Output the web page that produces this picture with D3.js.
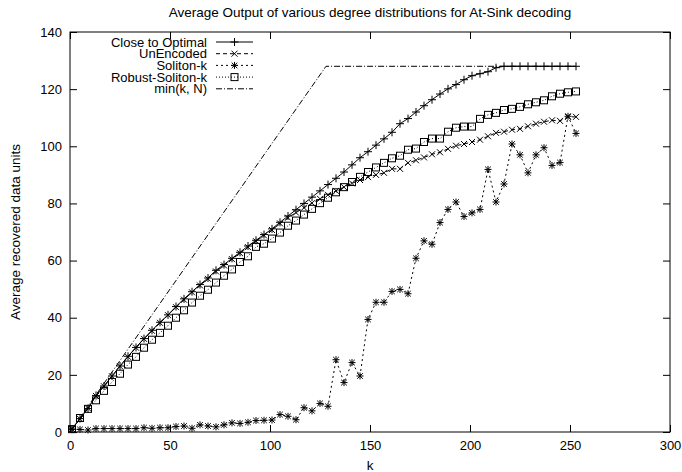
<!DOCTYPE html>
<html>
<head>
<meta charset="utf-8">
<script src="https://cdn.jsdelivr.net/npm/d3@7"></script>
<style>
  body { margin: 0; background: #fff; }
  svg { font-family: "Liberation Sans", Arial, Helvetica, sans-serif; }
  .axis path { stroke: none; }
  .axis line { stroke: #000; }
  .axis text { font-size: 13px; fill: #000; }
</style>
</head>
<body>
<div class="chart"></div>
<script>
// k values (every 4th)
let kVals = [1, 5, 9, 13, 17, 21, 25, 29, 33, 37, 41, 45, 49, 53, 57, 61,
  65, 69, 73, 77, 81, 85, 89, 93, 97, 101, 105, 109, 113, 117, 121, 125,
  129, 133, 137, 141, 145, 149, 153, 157, 161, 165, 169, 173, 177, 181, 185, 189,
  193, 197, 201, 205, 209, 213, 217, 221, 225, 229, 233, 237, 241, 245, 249, 253];

let closeOpt = [1, 4.7, 8.2, 12.8, 16.1, 19.6, 23.1, 26.5, 29.6, 32.7, 35.6, 38.4, 41.0, 43.9, 46.6, 49.1,
  51.6, 53.9, 56.6, 58.6, 60.8, 62.9, 65.1, 67.1, 69.1, 71.1, 73.4, 75.6, 77.8, 80.0, 82.2, 84.4,
  86.6, 88.8, 91.0, 93.5, 96.0, 98.1, 100.4, 102.6, 104.9, 107.9, 109.7, 112.0, 114.2, 116.3, 118.3, 120.1,
  121.6, 123.3, 124.7, 125.4, 126.1, 127.5, 128, 128, 128, 128, 128, 128, 128, 128, 128, 128];

let unEncoded = [1, 4.6, 8.3, 12.6, 16.0, 19.5, 23.0, 26.3, 29.5, 32.6, 35.4, 38.2, 40.9, 43.7, 46.3, 48.9,
  51.3, 53.6, 56.2, 58.3, 60.5, 62.6, 64.7, 66.8, 68.8, 70.7, 73.0, 75.0, 76.8, 78.5, 80.1, 81.6,
  83.0, 84.4, 85.7, 87.0, 88.2, 89.2, 90.0, 90.7, 92.1, 92.1, 94.2, 95.1, 96.1, 97.2, 97.9, 99.1,
  100.2, 100.8, 101.5, 102.3, 103.5, 104.7, 105.1, 105.8, 106.1, 107.0, 107.9, 108.6, 109.1, 108.9, 110.3, 110.3];

let soliton = [1, 0.9, 0.7, 1.2, 1.2, 1.2, 1.2, 1.2, 1.2, 1.5, 1.3, 1.5, 1.5, 1.9, 2.1, 1.3,
  2.5, 2.1, 1.8, 2.5, 3.2, 3.0, 3.4, 4.0, 4.1, 4.2, 6.1, 5.5, 4.3, 8.5, 7.4, 10.0,
  9.0, 25.3, 17.3, 24.3, 19.6, 39.4, 45.4, 45.4, 49.2, 49.9, 48.4, 60.8, 66.9, 65.7, 73.3, 77.9,
  80.5, 75.4, 76.7, 77.9, 91.9, 80.5, 86.8, 100.8, 97.0, 90.7, 97.0, 99.5, 93.3, 94.3, 110.5, 104.5];

let robust = [1, 4.9, 8.1, 11.1, 14.4, 17.5, 20.4, 23.6, 26.3, 29.5, 32.3, 34.7, 37.2, 40.0, 42.6, 45.3,
  47.7, 49.8, 52.3, 54.7, 56.9, 59.5, 61.5, 64.8, 65.9, 67.7, 69.8, 72.2, 74.0, 76.1, 78.1, 80.1,
  82.0, 83.9, 85.7, 87.5, 89.3, 91.0, 92.6, 94.2, 95.8, 96.7, 98.8, 99.2, 101.5, 102.7, 102.7, 105.1,
  106.5, 106.9, 106.9, 109.6, 111.0, 111.7, 112.7, 113.1, 113.8, 114.7, 115.4, 116.1, 117.5, 118.4, 118.9, 119.2];

// min(k, N) with N = 128: corner points of the line
let minK = [1, 128, 253];
let minVals = [1, 128, 128];

let xTicks = [0, 50, 100, 150, 200, 250, 300];
let yTicks = [0, 20, 40, 60, 80, 100, 120, 140];

let margin = { top: 32, right: 12, bottom: 40, left: 70 },
  width = 682 - margin.left - margin.right,
  height = 472 - margin.top - margin.bottom;

let svg = d3.select(".chart")
  .append("svg")
  .attr("width", 682)
  .attr("height", 472);

let g = svg.append("g")
  .attr("transform", "translate(" + margin.left + "," + margin.top + ")");

let x = d3.scaleLinear().domain([0, 300]).range([0, width]);
let y = d3.scaleLinear().domain([0, 140]).range([height, 0]);

// axes, gnuplot style ticks pointing inward, mirrored on top and right
g.append("g").attr("class", "axis")
  .attr("transform", "translate(0," + height + ")")
  .call(d3.axisBottom(x).tickValues(xTicks).tickSize(-7).tickPadding(9));
g.append("g").attr("class", "axis")
  .call(d3.axisLeft(y).tickValues(yTicks).tickSize(-7).tickPadding(8));
g.append("g").attr("class", "axis")
  .call(d3.axisTop(x).tickValues(xTicks).tickSize(-7).tickFormat(""));
g.append("g").attr("class", "axis")
  .attr("transform", "translate(" + width + ",0)")
  .call(d3.axisRight(y).tickValues(yTicks).tickSize(-7).tickFormat(""));

g.append("rect")
  .attr("width", width).attr("height", height)
  .attr("fill", "none").attr("stroke", "#000").attr("stroke-width", 1);

svg.append("text")
  .attr("x", margin.left + width / 2).attr("y", 17)
  .attr("text-anchor", "middle").attr("font-size", 13.5)
  .text("Average Output of various degree distributions for At-Sink decoding");

svg.append("text")
  .attr("x", margin.left + width / 2).attr("y", 470)
  .attr("text-anchor", "middle").attr("font-size", 13.5)
  .text("k");

svg.append("text")
  .attr("transform", "translate(20," + (margin.top + height / 2) + ") rotate(-90)")
  .attr("text-anchor", "middle").attr("font-size", 13.5)
  .text("Average recovered data units");

// markers
function plus(sel, s) {
  sel.append("path").attr("d", "M" + (-s) + ",0H" + s + "M0," + (-s) + "V" + s);
}
function cross(sel, s) {
  sel.append("path").attr("d", "M" + (-s) + "," + (-s) + "L" + s + "," + s + "M" + (-s) + "," + s + "L" + s + "," + (-s));
}
function star(sel, s) {
  plus(sel, s); cross(sel, s * 0.8);
}
function square(sel, s) {
  sel.append("rect").attr("x", -s).attr("y", -s).attr("width", 2 * s).attr("height", 2 * s);
}

let series = [
  { name: "Close to Optimal", vals: closeOpt, dash: null, mark: plus, size: 4 },
  { name: "UnEncoded", vals: unEncoded, dash: "4,3", mark: cross, size: 3 },
  { name: "Soliton-k", vals: soliton, dash: "2,3", mark: star, size: 3.5 },
  { name: "Robust-Soliton-k", vals: robust, dash: "1,2", mark: square, size: 3.5 },
  { name: "min(k, N)", vals: null, dash: "6,2,1,2", mark: null, size: 0 }
];

let line = d3.line().x(d => x(d[0])).y(d => y(d[1]));

series.forEach(function(s) {
  let pts = s.vals ? kVals.map((k, i) => [k, s.vals[i]]) : minK.map((k, i) => [k, minVals[i]]);
  g.append("path")
    .datum(pts)
    .attr("d", line)
    .attr("fill", "none")
    .attr("stroke", "#000")
    .attr("stroke-width", 1)
    .attr("stroke-dasharray", s.dash);
  if (s.mark) {
    g.selectAll(null)
      .data(pts)
      .enter()
      .append("g")
      .attr("transform", d => "translate(" + x(d[0]) + "," + y(d[1]) + ")")
      .attr("fill", "none").attr("stroke", "#000").attr("stroke-width", 1)
      .each(function() { s.mark(d3.select(this), s.size); });
  }
});

// legend
let legend = svg.append("g").attr("transform", "translate(207,42)");
series.forEach(function(s, i) {
  let row = legend.append("g").attr("transform", "translate(0," + (i * 11.7) + ")");
  row.append("text")
    .attr("text-anchor", "end").attr("dy", "0.35em").attr("font-size", 13)
    .text(s.name);
  row.append("line")
    .attr("x1", 9).attr("x2", 46)
    .attr("stroke", "#000").attr("stroke-width", 1)
    .attr("stroke-dasharray", s.dash);
  if (s.mark) {
    let m = row.append("g").attr("transform", "translate(27.5,0)")
      .attr("fill", "none").attr("stroke", "#000").attr("stroke-width", 1);
    s.mark(m, s.size);
  }
});
</script>
</body>
</html>
